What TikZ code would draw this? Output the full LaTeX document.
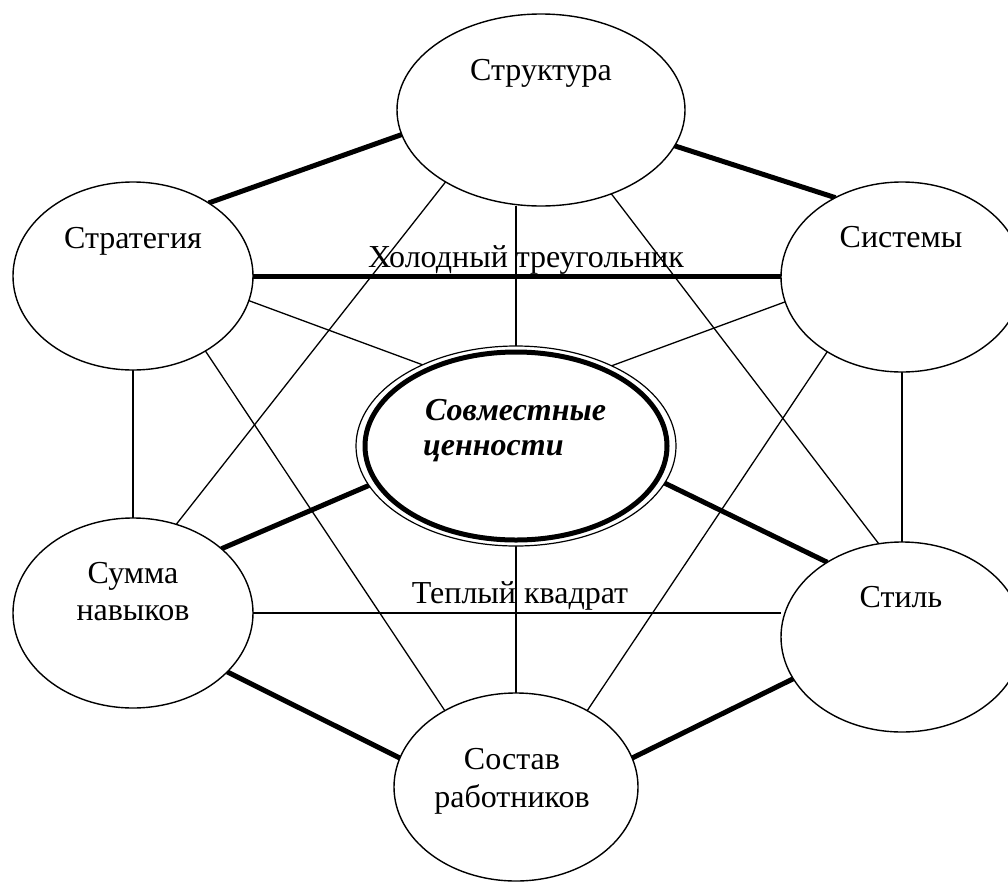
\documentclass[tikz,border=0pt]{standalone}
\usepackage{fontspec}
\setmainfont{Liberation Serif}
\usetikzlibrary{shapes.geometric,backgrounds}
\begin{document}
\begin{tikzpicture}[x=1pt,y=-1pt,
  oval/.style={ellipse, draw, line width=1.4pt, fill=white, inner sep=0pt, outer sep=0pt},
  lbl/.style={anchor=base, inner sep=0pt, font=\fontsize{32}{37}\selectfont},
  corelbl/.style={anchor=base west, inner sep=0pt, font=\fontsize{32}{37}\selectfont\bfseries\itshape},
  fine/.style={line width=1.3pt},
  heavy/.style={line width=5pt},
]
\useasboundingbox (0,0) rectangle (1008,881);
\clip (0,0) rectangle (1008,881);

% the seven elements
\node[oval, minimum width=288pt, minimum height=192pt] (struct) at (541,110) {};
\node[oval, minimum width=240pt, minimum height=188pt] (strat) at (133,276) {};
\node[oval, minimum width=242pt, minimum height=190pt] (sys) at (902,277) {};
\node[oval, line width=1.2pt, minimum width=320pt, minimum height=200pt] (core) at (516,446) {};
\node[ellipse, draw, line width=5pt, inner sep=0pt, minimum width=302pt, minimum height=188pt] (core-in) at (core.center) {};
\node[oval, minimum width=240pt, minimum height=190pt] (skill) at (133,613) {};
\node[oval, minimum width=242pt, minimum height=190pt] (style) at (902,637) {};
\node[oval, minimum width=244pt, minimum height=188pt] (staff) at (516,787) {};

% labels
\node[lbl] (struct-t) at (541,80) {Структура};
\node[lbl] (strat-t) at (133,248) {Стратегия};
\node[lbl] (sys-t) at (901,247) {Системы};
\node[corelbl] (core-t1) at (425,420) {Совместные};
\node[corelbl] (core-t2) at (423,455) {ценности};
\node[lbl] (skill-t1) at (133,583) {Сумма};
\node[lbl] (skill-t2) at (133,620) {навыков};
\node[lbl] (style-t) at (901,607) {Стиль};
\node[lbl] (staff-t1) at (512,769) {Состав};
\node[lbl] (staff-t2) at (512,807) {работников};
\node[lbl] (cold) at (526,267) {Холодный треугольник};
\node[lbl] (warm) at (520,603) {Теплый квадрат};

\begin{pgfonlayer}{background}
  % hard links
  \draw[heavy] (strat.44) -- (struct.190);
  \draw[heavy] (struct.-15) -- (sys.130);
  \draw[heavy] (strat.east) -- (strat.east -| sys.west);
  \draw[heavy] (core.195) -- (skill.36);
  \draw[heavy] (core.-14) -- (style.135);
  \draw[heavy] (skill.-32) -- (staff.166);
  \draw[heavy] (style.201) -- (staff.14);
  % soft links
  \draw[fine] (core.north) -- (core.north |- struct.south);
  \draw[fine] (core.south) -- (staff.north);
  \draw[fine] (strat.south) -- (skill.north);
  \draw[fine] (sys.south) -- (style.north);
  \draw[fine] (strat.-12) -- (core.139);
  \draw[fine] (sys.192) -- (core.40);
  \draw[fine] (struct.217) -- (skill.64);
  \draw[fine] (struct.-50) -- (style.104);
  \draw[fine] (strat.-46) -- (staff.133);
  \draw[fine] (sys.225) -- (staff.47);
  \draw[fine] (skill.east) -- (skill.east -| style.west);
\end{pgfonlayer}
\end{tikzpicture}
\end{document}
